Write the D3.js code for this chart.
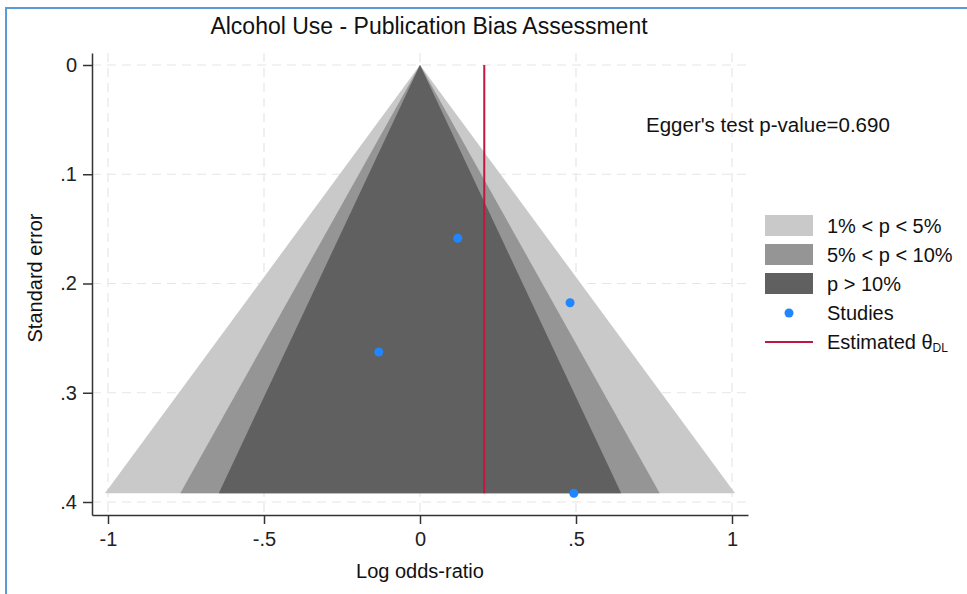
<!DOCTYPE html>
<html>
<head>
<meta charset="utf-8">
<script src="https://cdn.jsdelivr.net/npm/d3@7"></script>
<style>
  html, body { margin: 0; padding: 0; background: #fff; }
  svg { display: block; font-family: "Liberation Sans", Arial, sans-serif; }
</style>
</head>
<body>
<svg id="chart" width="967" height="594"></svg>
<script>
// Study estimates: log odds-ratio and standard error
const studyLogOR = [0.121, -0.132, 0.481, 0.493];
const studySE    = [0.1586, 0.2627, 0.2176, 0.392];

// Pooled DerSimonian-Laird estimate and Egger test
const pooledTheta = 0.206;
const eggerP = "0.690";

// Significance contours: critical z values
const contourZ = [2.576, 1.96, 1.645];
const contourLabels = ["1% < p < 5%", "5% < p < 10%", "p > 10%"];
const contourColors = ["#c9c9c9", "#959595", "#606060"];

const xTicks = [-1, -0.5, 0, 0.5, 1];
const xTickLabels = ["-1", "-.5", "0", ".5", "1"];
const yTicks = [0, 0.1, 0.2, 0.3, 0.4];
const yTickLabels = ["0", ".1", ".2", ".3", ".4"];

const svg = d3.select("#chart");
const font = "'Liberation Sans', Arial, sans-serif";

// Outer frame
svg.append("rect")
  .attr("x", 6).attr("y", 8).attr("width", 980).attr("height", 600)
  .attr("fill", "none").attr("stroke", "#5b9bd5").attr("stroke-width", 2);

const x = d3.scaleLinear().domain([-1, 1]).range([108, 732]);
const y = d3.scaleLinear().domain([0, 0.4]).range([65, 502]);
const xMin = x.invert(92), xMax = x.invert(748);
const yMax = y.invert(515), yMin = y.invert(53);

// Grid
const grid = svg.append("g").attr("stroke", "#e6e6e6").attr("stroke-width", 1.2)
  .attr("stroke-dasharray", "9,6");
grid.selectAll(".gx").data(xTicks).join("line")
  .attr("x1", d => x(d)).attr("x2", d => x(d))
  .attr("y1", y(yMin)).attr("y2", y(yMax));
grid.selectAll(".gy").data(yTicks).join("line")
  .attr("x1", x(xMin)).attr("x2", x(xMax))
  .attr("y1", d => y(d)).attr("y2", d => y(d));

// Funnel contours (outermost first)
const seMax = d3.max(studySE);
svg.append("g").selectAll("path").data(contourZ).join("path")
  .attr("d", z => {
    const pts = [[0, 0], [z * seMax, seMax], [-z * seMax, seMax]];
    return d3.line().x(p => x(p[0])).y(p => y(p[1]))(pts) + "Z";
  })
  .attr("fill", (z, i) => contourColors[i]);

// Pooled estimate line
svg.append("line")
  .attr("x1", x(pooledTheta)).attr("x2", x(pooledTheta))
  .attr("y1", y(0)).attr("y2", y(seMax))
  .attr("stroke", "#c0163f").attr("stroke-width", 2);

// Studies
svg.append("g").selectAll("circle").data(studyLogOR).join("circle")
  .attr("cx", d => x(d)).attr("cy", (d, i) => y(studySE[i]))
  .attr("r", 4.5).attr("fill", "#1f86ff");

// Axes
const axisColor = "#333";
const yAxisScale = d3.scaleLinear().domain([yMin, yMax]).range([53, 515]);
const gy = svg.append("g").attr("transform", "translate(92,0)")
  .call(d3.axisLeft(yAxisScale).tickValues(yTicks).tickSize(9).tickSizeOuter(0).tickPadding(6)
    .tickFormat((d, i) => yTickLabels[i]));
const xAxisScale = d3.scaleLinear().domain([xMin, xMax]).range([92, 748]);
const gx = svg.append("g").attr("transform", "translate(0,515)")
  .call(d3.axisBottom(xAxisScale).tickValues(xTicks).tickSize(9).tickSizeOuter(0).tickPadding(8)
    .tickFormat((d, i) => xTickLabels[i]));
[gx, gy].forEach(g => {
  g.select(".domain").attr("stroke", axisColor).attr("stroke-width", 1.5);
  g.selectAll(".tick line").attr("stroke", axisColor).attr("stroke-width", 1.5);
  g.selectAll(".tick text").attr("fill", "#222")
    .style("font-size", "20px").style("font-family", font);
});

// Titles
svg.append("text").attr("x", 429).attr("y", 34).attr("text-anchor", "middle")
  .style("font-size", "23px").attr("fill", "#111")
  .text("Alcohol Use - Publication Bias Assessment");
svg.append("text").attr("x", 420).attr("y", 578).attr("text-anchor", "middle")
  .style("font-size", "20px").attr("fill", "#111").text("Log odds-ratio");
svg.append("text").attr("transform", "translate(42,278) rotate(-90)")
  .attr("text-anchor", "middle").style("font-size", "20px").attr("fill", "#111")
  .text("Standard error");

// Egger note
svg.append("text").attr("x", 646).attr("y", 132)
  .style("font-size", "20.5px").attr("fill", "#111")
  .text("Egger's test p-value=" + eggerP);

// Legend
const legend = svg.append("g").attr("transform", "translate(765,215)");
const rowH = 29;
contourLabels.forEach((lab, i) => {
  legend.append("rect").attr("x", 0).attr("y", i * rowH).attr("width", 48).attr("height", 21)
    .attr("fill", contourColors[i]);
  legend.append("text").attr("x", 62).attr("y", i * rowH + 18)
    .style("font-size", "20px").attr("fill", "#111").text(lab);
});
legend.append("circle").attr("cx", 24).attr("cy", 3 * rowH + 11).attr("r", 4.5).attr("fill", "#1f86ff");
legend.append("text").attr("x", 62).attr("y", 3 * rowH + 18)
  .style("font-size", "20px").attr("fill", "#111").text("Studies");
legend.append("line").attr("x1", 0).attr("x2", 48)
  .attr("y1", 4 * rowH + 11).attr("y2", 4 * rowH + 11)
  .attr("stroke", "#c0163f").attr("stroke-width", 2);
const est = legend.append("text").attr("x", 62).attr("y", 4 * rowH + 18)
  .style("font-size", "20px").attr("fill", "#111");
est.append("tspan").text("Estimated θ");
est.append("tspan").attr("dy", 3).style("font-size", "12px").text("DL");
</script>
</body>
</html>
